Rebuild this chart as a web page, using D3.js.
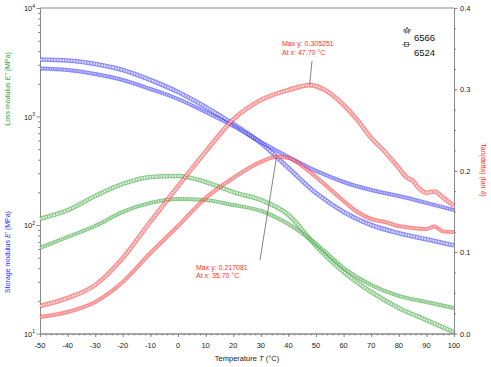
<!DOCTYPE html>
<html><head><meta charset="utf-8">
<script src="https://cdn.jsdelivr.net/npm/d3@7/dist/d3.min.js"></script>
<style>
html,body{margin:0;padding:0;background:#fff;}
svg{display:block;font-family:"Liberation Sans",Arial,sans-serif;}
</style></head>
<body><svg id="c" width="491" height="367"></svg>
<script>
// ---- data ----
const modTemps = [-50,-40,-30,-20,-10,0,10,20,30,40,50,60,70,80,90,100];
const storage6524 = [3350,3282,3048,2684,2170,1682,1224,853,570,335,197,132,100,84,74,65];
const storage6566 = [2770,2684,2465,2170,1792,1450,1100,817,582,423,315,249,210,185,160,137];
const loss6524 = [114,137,185,239,277,283,249,201,170,124,64,36.9,24.1,17.2,13.3,10.3];
const loss6566 = [61.4,77.5,97.9,132,160,174,170,153,135,102,67,40.1,28,22.2,19.5,17.2];
const tanTemps6524 = [-50,-40,-30,-20,-10,0,10,20,30,40,47.7,55,60,65,70,75,80,83,85,87,90,93,96,100];
const tan6524 = [0.0338,0.0436,0.0596,0.0928,0.1375,0.1810,0.2235,0.2630,0.2869,0.2992,0.305251,0.2955,0.2808,0.2624,0.2402,0.2230,0.2034,0.1915,0.1880,0.1795,0.1730,0.1745,0.1670,0.1567];
const tanTemps6566 = [-50,-40,-30,-20,-10,0,10,20,30,35.7,40,45,50,55,60,65,70,75,80,85,90,93,96,100];
const tan6566 = [0.0203,0.0264,0.0387,0.0633,0.0989,0.1321,0.1665,0.1911,0.2108,0.217081,0.2157,0.2058,0.1923,0.1776,0.1628,0.1493,0.1407,0.1370,0.1321,0.1296,0.1284,0.1315,0.1255,0.1247];
const xTicks = [-50,-40,-30,-20,-10,0,10,20,30,40,50,60,70,80,90,100];
const logTicks = [10,100,1000,10000];
const tanTicks = [0,0.1,0.2,0.3,0.4];
const legendNames = ["6566","6524"];
const peaks = [
  {t:47.7, v:0.305251, lines:["Max y: 0.305251","At x: 47.70 °C"]},
  {t:35.7, v:0.217081, lines:["Max y: 0.217081","At x: 35.70 °C"]}
];

// ---- layout ----
const svg = d3.select("#c");
const L=40, R=454, T=8, B=333.5;
const x = d3.scaleLinear([-50,100],[L,R]);
const yL = d3.scaleLog([10,10000],[B,T]);
const yT = d3.scaleLinear([0,0.4],[B,T]);
const axisCol = "#8a8a8a", txtCol="#222";
const BLUE="#2b2bff", GREEN="#2fa02f", RED="#ff3030";

// frame top line
svg.append("line").attr("x1",L).attr("x2",R).attr("y1",T).attr("y2",T).attr("stroke",axisCol).attr("stroke-width",1.2);

function styleAxis(g){ g.select(".domain").attr("stroke",axisCol); g.selectAll(".tick line").attr("stroke",axisCol); g.selectAll("text").remove(); }

// bottom axis
const gx = svg.append("g").attr("transform",`translate(0,${B})`);
gx.call(d3.axisBottom(x).tickValues(d3.range(-50,101,2)).tickSize(2).tickSizeOuter(0)).call(styleAxis);
const gx2 = svg.append("g").attr("transform",`translate(0,${B})`);
gx2.call(d3.axisBottom(x).tickValues(xTicks).tickSize(3.5).tickSizeOuter(0)).call(styleAxis);
svg.append("g").selectAll("text").data(xTicks).join("text")
  .attr("x",d=>x(d)).attr("y",B+14).attr("text-anchor","middle")
  .attr("font-size",7.5).attr("fill",txtCol).text(d=>d);

// left axis
const minorLog=[];
[10,100,1000].forEach(d=>{for(let k=2;k<=9;k++) minorLog.push(d*k);});
const gl = svg.append("g").attr("transform",`translate(${L},0)`);
gl.call(d3.axisLeft(yL).tickValues(minorLog).tickSize(2).tickSizeOuter(0)).call(styleAxis);
const gl2 = svg.append("g").attr("transform",`translate(${L},0)`);
gl2.call(d3.axisLeft(yL).tickValues(logTicks).tickSize(3.5).tickSizeOuter(0)).call(styleAxis);
const lt = svg.append("g").selectAll("text").data(logTicks).join("text")
  .attr("x",L-5).attr("y",d=>yL(d)+3).attr("text-anchor","end")
  .attr("font-size",7.5).attr("fill",txtCol);
lt.append("tspan").text("10");
lt.append("tspan").attr("font-size",5).attr("dy",-3.5).text(d=>Math.round(Math.log10(d)));

// right axis
const gr = svg.append("g").attr("transform",`translate(${R},0)`);
gr.call(d3.axisRight(yT).tickValues(d3.range(0,0.4001,0.025)).tickSize(2).tickSizeOuter(0)).call(styleAxis);
const gr2 = svg.append("g").attr("transform",`translate(${R},0)`);
gr2.call(d3.axisRight(yT).tickValues(tanTicks).tickSize(3.5).tickSizeOuter(0)).call(styleAxis);
svg.append("g").selectAll("text").data(tanTicks).join("text")
  .attr("x",R+6).attr("y",d=>yT(d)+3).attr("font-size",7.5).attr("fill",txtCol).text(d=>d.toFixed(1));

// axis titles
function vtext(xp,yp,rot,col,parts){
  const t=svg.append("text").attr("transform",`translate(${xp},${yp}) rotate(${rot})`)
    .attr("text-anchor","middle").attr("font-size",7).attr("fill",col);
  parts.forEach(p=>{const s=t.append("tspan").text(p[0]); if(p[1]) s.attr("font-style","italic");});
}
vtext(10,89,-90,GREEN,[["Loss modulus  "],["E''",1],["  (MPa)"]]);
vtext(10,252,-90,BLUE,[["Storage modulus  "],["E'",1],["  (MPa)"]]);
vtext(481,170,90,RED,[["Tan(delta)  (tan "],["δ",1],[")"]]);
const xt=svg.append("text").attr("x",247).attr("y",361).attr("text-anchor","middle").attr("font-size",7.5).attr("fill",txtCol);
xt.append("tspan").text("Temperature  ");
xt.append("tspan").attr("font-style","italic").text("T");
xt.append("tspan").text("  (°C)");

// series
const series = [
  {t:modTemps, v:storage6524, y:yL, c:BLUE, m:"sq"},
  {t:modTemps, v:storage6566, y:yL, c:BLUE, m:"st"},
  {t:modTemps, v:loss6524, y:yL, c:GREEN, m:"sq"},
  {t:modTemps, v:loss6566, y:yL, c:GREEN, m:"st"},
  {t:tanTemps6524, v:tan6524, y:yT, c:RED, m:"sq"},
  {t:tanTemps6566, v:tan6566, y:yT, c:RED, m:"st"}
];
const gS = svg.append("g");
series.forEach(s=>{
  const pts = s.t.map((t,i)=>[t,s.v[i]]);
  const line = d3.line().x(d=>x(d[0])).y(d=>s.y(d[1])).curve(d3.curveMonotoneX);
  const d = line(pts);
  gS.append("path").attr("d",d).attr("fill","none").attr("stroke",s.c)
    .attr("stroke-width",s.m==="sq"?4.6:4).attr("stroke-opacity",0.55);
  gS.append("path").attr("d",d).attr("fill","none").attr("stroke","#fff")
    .attr("stroke-width",s.m==="sq"?2.2:1.4).attr("stroke-opacity",0.75)
    .attr("stroke-dasharray",s.m==="sq"?"1.6 1.2":"1 1.4");
});

// annotations
const ann = [ {lx:282, ly:46, sx:312, sy:61}, {lx:196, ly:269.5, sx:260, sy:260} ];
peaks.forEach((p,i)=>{
  const a=ann[i];
  svg.append("line").attr("x1",a.sx).attr("y1",a.sy).attr("x2",x(p.t)).attr("y2",yT(p.v))
    .attr("stroke","#666").attr("stroke-width",0.8);
  svg.append("g").selectAll("text").data(p.lines).join("text")
    .attr("x",a.lx).attr("y",(d,j)=>a.ly+j*8.7).attr("font-size",7).attr("fill",RED).text(d=>d);
});

// legend
const lg = svg.append("g");
const star = d3.symbol().type(d3.symbolStar).size(14);
lg.append("line").attr("x1",403).attr("x2",411).attr("y1",31).attr("y2",31).attr("stroke","#555").attr("stroke-width",0.7);
lg.append("path").attr("d",star()).attr("transform","translate(407,30.5)").attr("fill","none").attr("stroke","#444").attr("stroke-width",0.7);
lg.append("line").attr("x1",402.5).attr("x2",410.5).attr("y1",44.5).attr("y2",44.5).attr("stroke","#555").attr("stroke-width",0.7);
lg.append("rect").attr("x",404.5).attr("y",42.5).attr("width",4).attr("height",4).attr("fill","none").attr("stroke","#444").attr("stroke-width",0.7);
lg.selectAll("text").data(legendNames).join("text")
  .attr("x",414).attr("y",(d,i)=>41+i*15).attr("font-size",9.5).attr("fill","#111").text(d=>d);
</script></body></html>
